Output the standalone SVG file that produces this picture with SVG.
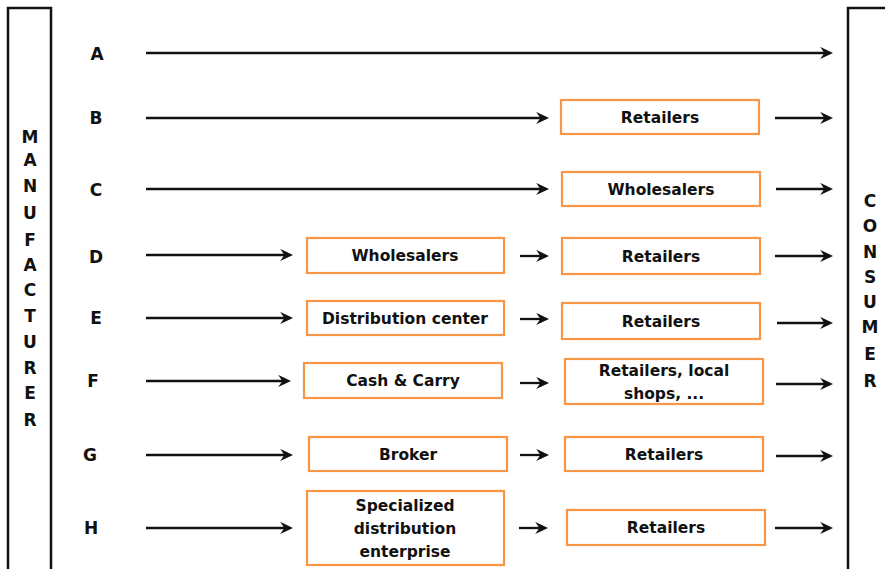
<svg xmlns="http://www.w3.org/2000/svg" width="885" height="569" viewBox="0 0 885 569">
<defs>
<marker id="ah" markerUnits="userSpaceOnUse" markerWidth="13" markerHeight="13" viewBox="0 0 10 10" refX="6" refY="5" orient="auto">
<path d="M0,0.3 L10,5 L0,9.7 L3.2,5 Z" fill="#111"/>
</marker>
</defs>
<style>
.bar{fill:#fff;stroke:#111;stroke-width:2.5}
.box{fill:#fff;stroke:#F79646;stroke-width:2.2}
.t{font-family:"DejaVu Sans","Liberation Sans",sans-serif;font-weight:bold;font-size:15.5px;fill:#111;text-anchor:middle}
.l{font-family:"DejaVu Sans","Liberation Sans",sans-serif;font-weight:bold;font-size:17px;fill:#111;text-anchor:middle}
.c line{stroke:#111;stroke-width:2.3;marker-end:url(#ah)}
</style>
<rect width="885" height="569" fill="#fff"/>
<g id="manufacturer">
<rect class="bar" x="8" y="8" width="43" height="580"/>
<text class="l" x="30" y="143">M</text>
<text class="l" x="30" y="166">A</text>
<text class="l" x="30" y="192">N</text>
<text class="l" x="30" y="219">U</text>
<text class="l" x="30" y="246">F</text>
<text class="l" x="30" y="271">A</text>
<text class="l" x="30" y="296">C</text>
<text class="l" x="30" y="322">T</text>
<text class="l" x="30" y="348">U</text>
<text class="l" x="30" y="374">R</text>
<text class="l" x="30" y="399">E</text>
<text class="l" x="30" y="426">R</text>
</g>
<g id="consumer">
<rect class="bar" x="848" y="8" width="50" height="580"/>
<text class="l" x="870" y="207">C</text>
<text class="l" x="870" y="232">O</text>
<text class="l" x="870" y="258">N</text>
<text class="l" x="870" y="283">S</text>
<text class="l" x="870" y="308">U</text>
<text class="l" x="870" y="333">M</text>
<text class="l" x="870" y="360">E</text>
<text class="l" x="870" y="387">R</text>
</g>
<g id="row-labels">
<text class="l" x="97" y="60">A</text>
<text class="l" x="96" y="124">B</text>
<text class="l" x="96" y="196">C</text>
<text class="l" x="96" y="263">D</text>
<text class="l" x="96" y="324">E</text>
<text class="l" x="93" y="387">F</text>
<text class="l" x="90" y="461">G</text>
<text class="l" x="91" y="534">H</text>
</g>
<g id="b-retailers"><rect class="box" x="561" y="100" width="198" height="34"/><text class="t" x="660" y="123">Retailers</text></g>
<g id="c-wholesalers"><rect class="box" x="562" y="172" width="198" height="34"/><text class="t" x="661" y="195">Wholesalers</text></g>
<g id="d-wholesalers"><rect class="box" x="307" y="238" width="197" height="35"/><text class="t" x="405" y="261">Wholesalers</text></g>
<g id="d-retailers"><rect class="box" x="562" y="238" width="198" height="36"/><text class="t" x="661" y="262">Retailers</text></g>
<g id="e-distribution"><rect class="box" x="307" y="301" width="197" height="34"/><text class="t" x="405" y="324">Distribution center</text></g>
<g id="e-retailers"><rect class="box" x="562" y="303" width="198" height="36"/><text class="t" x="661" y="327">Retailers</text></g>
<g id="f-cashcarry"><rect class="box" x="304" y="363" width="198" height="35"/><text class="t" x="403" y="386">Cash &amp; Carry</text></g>
<g id="f-retailers"><rect class="box" x="565" y="359" width="198" height="45"/><text class="t" x="664" y="376">Retailers, local</text><text class="t" x="664" y="399">shops, ...</text></g>
<g id="g-broker"><rect class="box" x="309" y="437" width="198" height="34"/><text class="t" x="408" y="460">Broker</text></g>
<g id="g-retailers"><rect class="box" x="565" y="437" width="198" height="34"/><text class="t" x="664" y="460">Retailers</text></g>
<g id="h-specialized"><rect class="box" x="307" y="491" width="197" height="74"/><text class="t" x="405" y="511">Specialized</text><text class="t" x="405" y="534">distribution</text><text class="t" x="405" y="557">enterprise</text></g>
<g id="h-retailers"><rect class="box" x="567" y="510" width="198" height="35"/><text class="t" x="666" y="533">Retailers</text></g>
<g id="connectors" class="c">
<line x1="146" y1="53" x2="828" y2="53"/>
<line x1="146" y1="118" x2="544" y2="118"/>
<line x1="775" y1="118" x2="828" y2="118"/>
<line x1="146" y1="189" x2="544" y2="189"/>
<line x1="776" y1="189" x2="828" y2="189"/>
<line x1="146" y1="255" x2="288" y2="255"/>
<line x1="520" y1="256" x2="544" y2="256"/>
<line x1="775" y1="256" x2="828" y2="256"/>
<line x1="146" y1="318" x2="288" y2="318"/>
<line x1="520" y1="319" x2="544" y2="319"/>
<line x1="777" y1="323" x2="828" y2="323"/>
<line x1="146" y1="381" x2="286" y2="381"/>
<line x1="520" y1="383" x2="544" y2="383"/>
<line x1="776" y1="384" x2="828" y2="384"/>
<line x1="146" y1="455" x2="288" y2="455"/>
<line x1="520" y1="455" x2="544" y2="455"/>
<line x1="776" y1="456" x2="828" y2="456"/>
<line x1="146" y1="528" x2="288" y2="528"/>
<line x1="519" y1="528" x2="543" y2="528"/>
<line x1="775" y1="528" x2="828" y2="528"/>
</g>
</svg>
